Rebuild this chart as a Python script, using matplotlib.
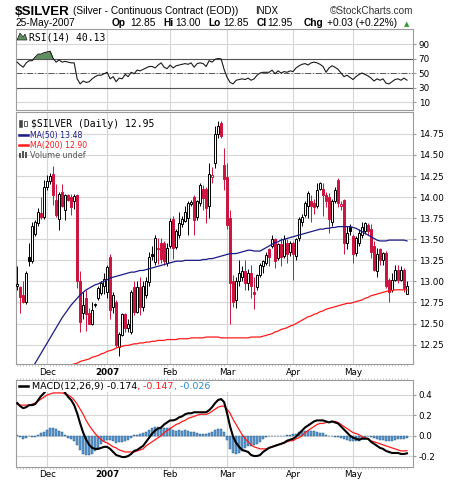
import numpy as np
import pandas as pd
import matplotlib
matplotlib.use('Agg')
import matplotlib.pyplot as plt
from matplotlib.patches import Rectangle, Polygon

# ---------------- data ----------------
holidays = ['2006-11-23', '2006-12-25', '2007-01-01', '2007-01-15', '2007-02-19', '2007-04-06']
dates = pd.bdate_range('2006-11-16', '2007-05-25')
dates = dates[~dates.isin(pd.to_datetime(holidays))]

opens = [12.95, 12.93, 12.84, 12.75, 13.29, 13.24, 13.56, 13.69, 13.81, 13.76,
         14.12, 14.19, 14.27, 13.97, 13.74, 14.06, 13.85, 14.02, 14.00, 13.95,
         14.02, 13.00, 12.63, 12.80, 12.63, 12.50, 12.72, 12.80, 12.86, 12.95,
         12.88, 13.29, 12.70, 12.75, 12.22, 12.37, 12.61, 12.45, 12.40, 12.93,
         12.64, 12.93, 12.70, 12.84, 12.99, 13.33, 13.23, 13.38, 13.45, 13.45,
         13.22, 13.42, 13.74, 13.41, 13.55, 13.68, 13.72, 13.75, 13.92, 14.00,
         13.77, 13.93, 14.10, 14.10, 13.89, 14.24, 14.40, 14.75, 14.88, 14.38,
         14.24, 13.75, 13.00, 12.78, 13.00, 13.05, 13.12, 12.98, 13.10, 12.88,
         12.93, 13.08, 13.18, 13.22, 13.38, 13.42, 13.50, 13.28, 13.44, 13.30,
         13.45, 13.35, 13.45, 13.30, 13.52, 13.70, 13.79, 13.89, 13.95, 13.93,
         13.89, 14.10, 14.10, 14.02, 14.00, 13.70, 13.95, 14.20, 13.90, 13.97,
         13.46, 13.64, 13.54, 13.34, 13.45, 13.55, 13.60, 13.67, 13.62, 13.42,
         13.12, 13.38, 13.25, 13.34, 13.02, 12.90, 13.02, 13.14, 13.02, 13.14,
         12.85]
highs = [13.18, 12.95, 13.00, 13.12, 13.45, 13.71, 13.73, 13.87, 14.00, 14.20,
         14.26, 14.29, 14.37, 14.16, 14.06, 14.16, 14.04, 14.04, 14.04, 14.04,
         14.04, 13.12, 12.87, 12.90, 12.68, 12.75, 12.74, 12.95, 13.00, 13.10,
         13.20, 13.32, 12.87, 12.78, 12.40, 12.63, 12.63, 12.55, 12.90, 13.00,
         13.00, 13.05, 13.00, 13.05, 13.35, 13.42, 13.55, 13.52, 13.52, 13.48,
         13.45, 13.75, 13.78, 13.62, 13.82, 13.78, 13.90, 13.95, 13.96, 14.02,
         13.97, 14.17, 14.14, 14.12, 14.40, 14.36, 14.84, 14.90, 14.90, 14.58,
         14.40, 13.85, 13.08, 13.05, 13.25, 13.18, 13.25, 13.15, 13.20, 13.05,
         13.09, 13.22, 13.25, 13.35, 13.40, 13.55, 13.52, 13.46, 13.52, 13.55,
         13.50, 13.48, 13.48, 13.52, 13.76, 13.80, 13.95, 14.07, 14.02, 13.98,
         14.17, 14.18, 14.17, 14.06, 14.05, 13.98, 14.12, 14.23, 13.95, 13.98,
         13.66, 13.68, 13.56, 13.54, 13.62, 13.71, 13.70, 13.69, 13.68, 13.48,
         13.40, 13.40, 13.35, 13.36, 13.04, 13.10, 13.20, 13.20, 13.18, 13.16,
         13.00]
lows = [12.90, 12.62, 12.74, 12.73, 13.18, 13.22, 13.54, 13.66, 13.74, 13.74,
        14.08, 14.15, 13.91, 13.77, 13.61, 13.88, 13.73, 13.95, 13.79, 13.86,
        12.92, 12.40, 12.55, 12.41, 12.49, 12.48, 12.70, 12.78, 12.84, 12.85,
        12.80, 12.55, 12.62, 12.22, 12.11, 12.35, 12.40, 12.40, 12.38, 12.60,
        12.62, 12.60, 12.65, 12.80, 12.94, 13.25, 13.20, 13.21, 13.22, 13.20,
        13.18, 13.40, 13.27, 13.38, 13.52, 13.65, 13.70, 13.55, 13.90, 13.55,
        13.73, 13.90, 13.85, 13.69, 13.75, 14.17, 14.34, 14.70, 14.70, 14.08,
        13.62, 12.50, 12.70, 12.68, 12.95, 13.00, 12.90, 12.90, 12.80, 12.67,
        12.90, 13.05, 13.10, 13.20, 13.18, 13.40, 13.16, 13.25, 13.18, 13.28,
        13.22, 13.30, 13.02, 13.25, 13.48, 13.66, 13.76, 13.75, 13.70, 13.80,
        13.87, 14.08, 13.78, 13.88, 13.58, 13.66, 13.93, 13.88, 13.85, 13.32,
        13.38, 13.55, 13.22, 13.30, 13.42, 13.52, 13.56, 13.55, 13.28, 13.12,
        13.05, 13.20, 13.20, 12.92, 12.76, 12.88, 13.00, 12.98, 13.00, 12.88,
        12.85]
closes = [12.97, 12.82, 12.76, 13.10, 13.24, 13.66, 13.70, 13.82, 13.76, 14.12,
          14.19, 14.25, 14.02, 13.79, 14.04, 13.89, 14.02, 13.97, 13.88, 14.01,
          13.00, 12.52, 12.72, 12.61, 12.50, 12.66, 12.73, 12.92, 12.98, 13.03,
          13.17, 12.66, 12.84, 12.25, 12.38, 12.61, 12.45, 12.49, 12.88, 12.64,
          12.93, 12.70, 12.95, 13.01, 13.29, 13.30, 13.51, 13.40, 13.27, 13.24,
          13.40, 13.72, 13.40, 13.60, 13.69, 13.74, 13.82, 13.93, 13.94, 13.73,
          13.95, 14.14, 13.99, 13.87, 14.28, 14.26, 14.75, 14.84, 14.72, 14.22,
          13.67, 12.98, 12.76, 13.00, 13.10, 13.12, 12.98, 13.10, 12.95, 12.85,
          13.08, 13.20, 13.24, 13.31, 13.29, 13.50, 13.24, 13.44, 13.29, 13.50,
          13.32, 13.45, 13.32, 13.50, 13.74, 13.77, 13.93, 14.05, 13.90, 13.88,
          14.09, 14.17, 14.03, 13.95, 13.74, 13.95, 14.09, 13.93, 13.92, 13.46,
          13.58, 13.60, 13.32, 13.52, 13.58, 13.65, 13.69, 13.60, 13.35, 13.14,
          13.32, 13.25, 13.34, 12.94, 12.88, 13.02, 13.14, 13.02, 13.14, 12.92,
          12.95]
ma50 = [11.70, 11.76, 11.81, 11.87, 11.92, 11.98, 12.03, 12.09, 12.15, 12.21,
        12.27, 12.33, 12.39, 12.45, 12.51, 12.57, 12.62, 12.67, 12.72, 12.76,
        12.80, 12.84, 12.87, 12.90, 12.92, 12.94, 12.96, 12.97, 12.99, 13.00,
        13.02, 13.04, 13.05, 13.06, 13.07, 13.08, 13.09, 13.10, 13.11, 13.11,
        13.12, 13.13, 13.13, 13.14, 13.15, 13.16, 13.17, 13.18, 13.19, 13.20,
        13.21, 13.22, 13.23, 13.24, 13.24, 13.24, 13.25, 13.25, 13.25, 13.25,
        13.25, 13.25, 13.26, 13.26, 13.27, 13.27, 13.28, 13.29, 13.30, 13.31,
        13.32, 13.33, 13.33, 13.33, 13.34, 13.35, 13.36, 13.37, 13.37, 13.36,
        13.36, 13.36, 13.38, 13.40, 13.42, 13.44, 13.46, 13.47, 13.49, 13.50,
        13.51, 13.52, 13.53, 13.54, 13.55, 13.56, 13.57, 13.58, 13.59, 13.60,
        13.61, 13.62, 13.62, 13.63, 13.63, 13.64, 13.64, 13.65, 13.65, 13.65,
        13.65, 13.65, 13.64, 13.63, 13.61, 13.59, 13.57, 13.55, 13.53, 13.51,
        13.49, 13.48, 13.48, 13.48, 13.49, 13.49, 13.49, 13.49, 13.49, 13.49,
        13.48]
ma200 = [11.80, 11.81, 11.82, 11.83, 11.85, 11.86, 11.87, 11.88, 11.89, 11.90,
         11.92, 11.93, 11.94, 11.95, 11.96, 11.97, 11.98, 12.00, 12.01, 12.02,
         12.03, 12.05, 12.06, 12.07, 12.08, 12.10, 12.11, 12.12, 12.14, 12.15,
         12.17, 12.18, 12.19, 12.21, 12.22, 12.23, 12.24, 12.24, 12.25, 12.26,
         12.26, 12.27, 12.27, 12.28, 12.28, 12.29, 12.29, 12.30, 12.30, 12.30,
         12.31, 12.31, 12.31, 12.31, 12.32, 12.32, 12.32, 12.32, 12.33, 12.33,
         12.33, 12.33, 12.33, 12.34, 12.34, 12.34, 12.34, 12.34, 12.33, 12.33,
         12.33, 12.33, 12.33, 12.33, 12.33, 12.33, 12.33, 12.33, 12.34, 12.34,
         12.34, 12.34, 12.35, 12.36, 12.37, 12.38, 12.40, 12.41, 12.43, 12.44,
         12.45, 12.47, 12.48, 12.50, 12.52, 12.54, 12.56, 12.58, 12.59, 12.61,
         12.62, 12.64, 12.65, 12.67, 12.68, 12.69, 12.70, 12.71, 12.72, 12.73,
         12.74, 12.74, 12.75, 12.76, 12.77, 12.78, 12.80, 12.81, 12.83, 12.84,
         12.85, 12.86, 12.87, 12.88, 12.89, 12.89, 12.90, 12.90, 12.90, 12.90,
         12.90]
rsi = [65, 61, 58, 64, 67, 67, 72, 76, 76, 78,
       79, 80, 70, 65, 68, 65, 66, 65, 64, 64,
       42, 35, 39, 37, 38, 42, 45, 47, 47, 49,
       51, 42, 45, 38, 43, 42, 48, 45, 51, 49,
       54, 53, 55, 57, 59, 59, 57, 61, 64, 58,
       56, 61, 57, 60, 61, 62, 63, 62, 64, 58,
       63, 64, 63, 59, 67, 65, 69, 70, 69.5, 55,
       44, 37, 35, 40, 41, 42, 41, 43, 40, 42,
       47, 50, 51, 51, 51, 54, 49, 53, 50, 52,
       51, 53, 52, 57, 60, 62, 63, 61, 64, 65,
       64, 62, 59, 51, 57, 60, 58, 55, 50, 45,
       47, 44, 41, 45, 48, 50, 48, 46, 43, 39,
       42, 40, 42, 36, 35, 38, 41, 42, 40, 43,
       40.13]
macd = [0.32, 0.29, 0.27, 0.28, 0.30, 0.30, 0.31, 0.35, 0.39, 0.42,
        0.46, 0.49, 0.50, 0.49, 0.47, 0.46, 0.42, 0.38, 0.35, 0.30,
        0.22, 0.12, 0.03, -0.04, -0.09, -0.12, -0.13, -0.13, -0.12, -0.11,
        -0.11, -0.13, -0.16, -0.19, -0.20, -0.21, -0.21, -0.20, -0.18, -0.15,
        -0.14, -0.12, -0.10, -0.06, -0.02, 0.02, 0.05, 0.07, 0.08, 0.11,
        0.13, 0.15, 0.15, 0.16, 0.18, 0.19, 0.21, 0.22, 0.22, 0.23,
        0.23, 0.23, 0.23, 0.23, 0.25, 0.28, 0.32, 0.35, 0.36, 0.33,
        0.22, 0.09, -0.01, -0.07, -0.11, -0.14, -0.15, -0.16, -0.19, -0.20,
        -0.20, -0.19, -0.16, -0.14, -0.12, -0.11, -0.10, -0.09, -0.08, -0.07,
        -0.05, -0.04, -0.03, -0.01, 0.02, 0.05, 0.08, 0.10, 0.12, 0.14,
        0.15, 0.15, 0.15, 0.14, 0.13, 0.14, 0.13, 0.12, 0.09, 0.06,
        0.03, 0.00, -0.02, -0.03, -0.04, -0.03, -0.03, -0.03, -0.06, -0.08,
        -0.10, -0.12, -0.13, -0.15, -0.16, -0.17, -0.17, -0.17, -0.18, -0.18,
        -0.174]
signal = [0.31, 0.30, 0.30, 0.30, 0.30, 0.31, 0.32, 0.34, 0.36, 0.38,
          0.40, 0.41, 0.42, 0.42, 0.42, 0.42, 0.41, 0.40, 0.38, 0.35,
          0.31, 0.26, 0.21, 0.15, 0.10, 0.06, 0.02, -0.01, -0.04, -0.06,
          -0.07, -0.09, -0.11, -0.12, -0.14, -0.15, -0.16, -0.16, -0.16, -0.16,
          -0.15, -0.14, -0.13, -0.10, -0.08, -0.06, -0.04, -0.02, 0.00, 0.03,
          0.05, 0.07, 0.09, 0.11, 0.12, 0.14, 0.15, 0.17, 0.18, 0.19,
          0.20, 0.21, 0.21, 0.21, 0.22, 0.24, 0.26, 0.28, 0.29, 0.29,
          0.26, 0.22, 0.16, 0.11, 0.06, 0.01, -0.03, -0.06, -0.09, -0.11,
          -0.12, -0.13, -0.13, -0.13, -0.12, -0.11, -0.10, -0.09, -0.08, -0.07,
          -0.06, -0.05, -0.05, -0.03, -0.02, 0.00, 0.03, 0.05, 0.07, 0.09,
          0.11, 0.12, 0.12, 0.13, 0.13, 0.14, 0.14, 0.13, 0.11, 0.09,
          0.07, 0.05, 0.03, 0.02, 0.01, -0.01, -0.02, -0.03, -0.05, -0.06,
          -0.07, -0.08, -0.09, -0.10, -0.11, -0.12, -0.13, -0.14, -0.15, -0.15,
          -0.147]
hist_last_label = -0.026
chg_pct_label = 0.22
price_ticks = [12.25, 12.50, 12.75, 13.00, 13.25, 13.50, 13.75, 14.00, 14.25, 14.50, 14.75]
rsi_ticks = [10, 30, 50, 70, 90]
macd_ticks = [-0.2, 0.0, 0.2, 0.4]

# ---------------- layout helpers ----------------
W, H = 460, 482
fig = plt.figure(figsize=(W / 100, H / 100), dpi=100)
fig.patch.set_facecolor('white')


def rect(l, t, r, b):
    return [l / W, 1 - b / H, (r - l) / W, (b - t) / H]


def fx(px):
    return px / W


def fy(py):
    return 1 - py / H


TICKFONT = ['DejaVu Sans']
GRID = '#d6d6d6'
BORDER = '#9c9c9c'
RED = '#cc1440'

x = np.arange(len(dates))
o = np.array(opens); h = np.array(highs); l = np.array(lows); c = np.array(closes)
macd_a = np.array(macd); sig_a = np.array(signal)
hist = macd_a - sig_a

month_idx = [i for i in range(1, len(dates)) if dates[i].month != dates[i - 1].month]
month_lab = [('%d' % dates[i].year) if dates[i].month == 1 else dates[i].strftime('%b') for i in month_idx]

ax_r = fig.add_axes(rect(16, 29, 413, 110))
ax_p = fig.add_axes(rect(16, 112, 413, 364))
ax_m = fig.add_axes(rect(16, 380, 413, 467))


def style(ax, ylim, yticks, ylabels, xlabels, minor_top, minor_bottom):
    ax.set_xlim(-0.4, 132)
    ax.set_ylim(*ylim)
    for s in ax.spines.values():
        s.set_color(BORDER)
        s.set_linewidth(0.8)
    ax.yaxis.tick_right()
    ax.set_yticks(yticks)
    ax.set_yticklabels(ylabels, fontsize=6.3, family=TICKFONT)
    ax.tick_params(axis='y', length=2, color=BORDER, pad=2)
    ax.set_xticks(month_idx)
    if minor_top or minor_bottom:
        ax.set_xticks(x, minor=True)
    for m in month_idx:
        ax.axvline(m, color=GRID, lw=0.8, zorder=0)
    for yt in yticks:
        ax.axhline(yt, color=GRID, lw=0.8, zorder=0)
    ax.tick_params(axis='x', which='major', length=0, pad=3)
    ax.tick_params(axis='x', which='minor', length=1.3, color='#b0b0b0', width=0.5,
                   top=minor_top, bottom=minor_bottom)
    if xlabels:
        ax.set_xticklabels(month_lab, fontsize=6.3, family=TICKFONT)
        for t in ax.get_xticklabels():
            if t.get_text().isdigit():
                t.set_fontweight('bold')
    else:
        ax.set_xticklabels([])


# ---------------- RSI ----------------
style(ax_r, (-1, 110.7), rsi_ticks, [str(v) for v in rsi_ticks], False, False, False)
rsi_a = np.array(rsi, dtype=float)
ax_r.axhline(70, color='#555555', lw=0.8, zorder=1)
ax_r.axhline(30, color='#555555', lw=0.8, zorder=1)
ax_r.axhline(50, color='#555555', lw=0.7, ls=(0, (6, 2, 1, 2)), zorder=1)
ax_r.fill_between(x, 70, rsi_a, where=rsi_a > 70, interpolate=True, color='#5f8f5f', lw=0, zorder=2)
ax_r.plot(x, rsi_a, color='#1a1a1a', lw=0.8, zorder=3)

# ---------------- Price ----------------
style(ax_p, (12.02, 15.01), price_ticks, ['%.2f' % v for v in price_ticks], True, False, True)
prev = np.r_[c[0], c[:-1]]
col = np.where(c >= prev, '#000000', RED)
filled = c < o
face = [col[i] if filled[i] else 'white' for i in range(len(c))]
ax_p.vlines(x, l, h, colors=col, lw=0.7, zorder=3)
ax_p.bar(x, np.maximum(np.abs(c - o), 0.008), bottom=np.minimum(o, c), width=0.72,
         color=face, edgecolor=col, linewidth=0.7, zorder=4)
ax_p.plot(x, ma50, color='#1a1a8a', lw=0.9, zorder=5)
ax_p.plot(x, ma200, color='#ff1a1a', lw=0.9, zorder=5)

# ---------------- MACD ----------------
style(ax_m, (-0.308, 0.547), macd_ticks, ['%.1f' % v for v in macd_ticks], True, True, True)
ax_m.bar(x, hist, width=0.85, color='#5a9bd2', edgecolor='#2a5e8e', linewidth=0.35, zorder=2)
ax_m.plot(x, sig_a, color='#ff1a1a', lw=0.9, zorder=3)
ax_m.plot(x, macd_a, color='#000000', lw=1.5, zorder=4)
ax_m.tick_params(axis='x', which='major', pad=2.5)

# ---------------- header text ----------------
fig.text(fx(15), fy(15), '$SILVER', fontsize=9.6, fontweight='bold',
         family=['Liberation Sans', 'DejaVu Sans'], va='baseline')
fig.text(fx(73), fy(14), '(Silver - Continuous Contract (EOD))', fontsize=7.3,
         family=['Liberation Sans', 'DejaVu Sans'], va='baseline')
fig.text(fx(255), fy(14), 'INDX', fontsize=7.0,
         family=['Liberation Sans', 'DejaVu Sans'], va='baseline')
fig.text(fx(413), fy(14), '\u00a9StockCharts.com', fontsize=7.2, color='#333333',
         family=['Liberation Sans', 'DejaVu Sans'], va='baseline', ha='right')
fig.text(fx(15), fy(26.5), dates[-1].strftime('%d-%b-%Y'), fontsize=7.3,
         family=['Liberation Sans', 'DejaVu Sans'], va='baseline')
chg = c[-1] - c[-2]
pieces = [(112, 'Op', True), (130, '%.2f' % o[-1], False),
          (163, 'Hi', True), (175, '%.2f' % h[-1], False),
          (208, 'Lo', True), (223, '%.2f' % l[-1], False),
          (257, 'Cl', True), (267, '%.2f' % c[-1], False),
          (304, 'Chg', True), (327, '%+.2f (%+.2f%%)' % (chg, chg_pct_label), False)]
for px, txt, bold in pieces:
    fig.text(fx(px), fy(26.5), txt, fontsize=7.3, fontweight='bold' if bold else 'normal',
             family=['Liberation Sans', 'DejaVu Sans'], va='baseline')
fig.text(fx(404), fy(26.5), '\u25b2', fontsize=5, color='#2e9a2e', va='baseline',
         family=['DejaVu Sans'])

# ---------------- legends ----------------
# RSI
fig.patches.append(Polygon([[fx(17), fy(40)], [fx(20), fy(33)], [fx(23), fy(37)],
                            [fx(25), fy(34)], [fx(27), fy(40)]], closed=True,
                           facecolor='#5f8f5f', edgecolor='#222222', lw=0.5,
                           transform=fig.transFigure, figure=fig))
fig.text(fx(29), fy(40.5), 'RSI(14) %.2f' % rsi_a[-1], fontsize=7.0,
         family=['DejaVu Sans Mono'], va='baseline')

# Price
fig.patches.append(Rectangle((fx(19), fy(127)), fx(3) - fx(0), fy(120) - fy(127),
                             facecolor='#444444', edgecolor='#444444', lw=0.4,
                             transform=fig.transFigure, figure=fig))
fig.patches.append(Rectangle((fx(24), fy(126)), fx(3) - fx(0), fy(121) - fy(126),
                             facecolor='white', edgecolor='#444444', lw=0.6,
                             transform=fig.transFigure, figure=fig))
fig.text(fx(31), fy(127.3), '$SILVER (Daily) %.2f' % c[-1], fontsize=7.0,
         family=['DejaVu Sans Mono'], va='baseline')
for yy, txt, colr in [(137.7, 'MA(50) %.2f' % ma50[-1], '#1a1a8a'),
                      (148.3, 'MA(200) %.2f' % ma200[-1], '#ff1a1a')]:
    fig.add_artist(plt.Line2D([fx(19), fx(28)], [fy(yy - 3.2), fy(yy - 3.2)],
                              color=colr, lw=1.8, transform=fig.transFigure))
    fig.text(fx(29.5), fy(yy), txt, fontsize=5.6, color=colr,
             family=['DejaVu Sans'], va='baseline')
for k, bh in enumerate([5, 7, 6]):
    fig.patches.append(Rectangle((fx(19 + 3 * k), fy(158)), fx(2) - fx(0), fy(158 - bh) - fy(158),
                                 facecolor='#555555', lw=0,
                                 transform=fig.transFigure, figure=fig))
fig.text(fx(29.5), fy(158), 'Volume undef', fontsize=5.8, color='#555555',
         family=['DejaVu Sans'], va='baseline')

# MACD legend with white box
fig.patches.append(Rectangle((fx(17), fy(392)), fx(248) - fx(17), fy(381) - fy(392),
                             facecolor='white', edgecolor='none', zorder=5,
                             transform=fig.transFigure, figure=fig))
fig.add_artist(plt.Line2D([fx(19), fx(28)], [fy(386.3), fy(386.3)], color='black', lw=1.8,
                          transform=fig.transFigure, zorder=6))
renderer = fig.canvas.get_renderer()
xpos = fx(32)
for txt, colr in [('MACD(12,26,9) %.3f' % macd_a[-1], '#000000'),
                  (', %.3f' % sig_a[-1], '#ff1a1a'),
                  (', %.3f' % hist_last_label, '#2a8ad0')]:
    t = fig.text(xpos, fy(389.5), txt, fontsize=6.8, color=colr, family=['DejaVu Sans'],
                 va='baseline', zorder=6)
    bb = t.get_window_extent(renderer=renderer)
    xpos = bb.x1 / fig.bbox.width

fig.savefig('out.png', dpi=100, facecolor='white')
